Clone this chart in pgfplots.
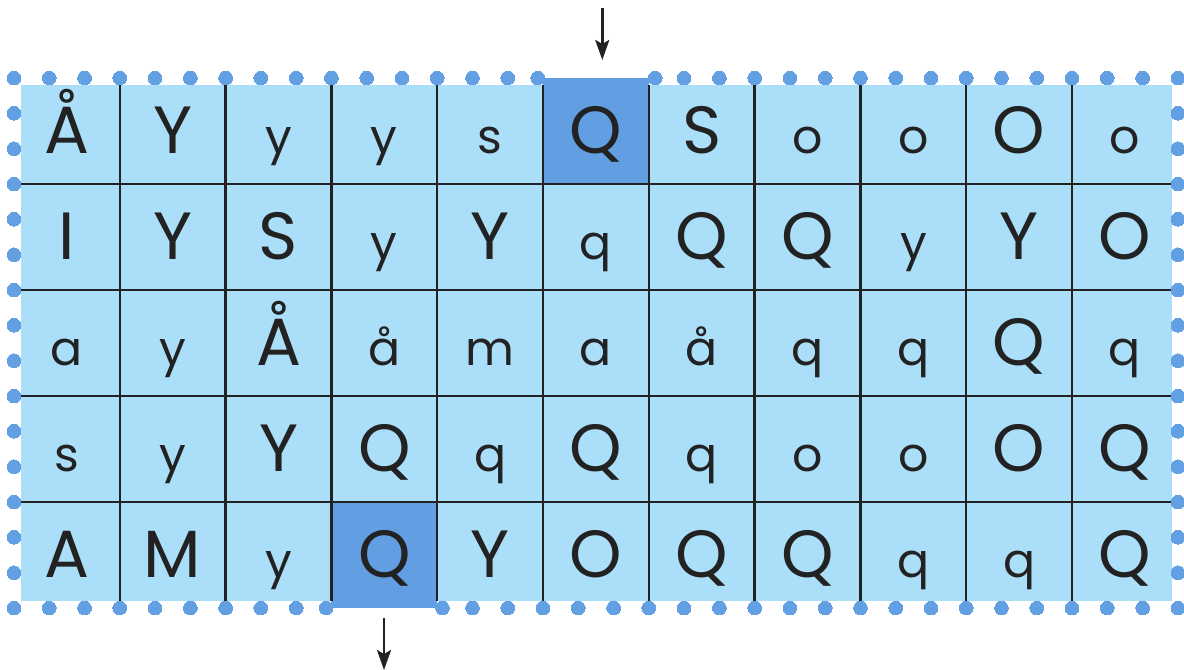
\documentclass[border=0pt]{standalone}
\usepackage{pgfplots}
\pgfplotsset{compat=1.18}
\usepackage{pgfplotstable}
\usepackage{fontspec}
\setmainfont{Poppins}
\usetikzlibrary{arrows.meta}
\definecolor{cellblue}{HTML}{ABDFF9}
\definecolor{hiblue}{HTML}{629FE2}
\definecolor{dotblue}{HTML}{629FE3}
\definecolor{gridc}{HTML}{222222}

\pgfplotstableread{
x y l
0.5 4.283 Å
1.5 4.283 Y
5.5 4.283 Q
6.5 4.283 S
9.5 4.283 O
0.5 3.283 I
1.5 3.283 Y
2.5 3.283 S
4.5 3.283 Y
6.5 3.283 Q
7.5 3.283 Q
9.5 3.283 Y
10.5 3.283 O
2.5 2.283 Å
9.5 2.283 Q
2.5 1.283 Y
3.5 1.283 Q
5.5 1.283 Q
9.5 1.283 O
10.5 1.283 Q
0.5 0.283 A
1.5 0.283 M
3.5 0.283 Q
4.5 0.283 Y
5.5 0.283 O
6.5 0.283 Q
7.5 0.283 Q
10.5 0.283 Q
}\capstab

\pgfplotstableread{
x y l
2.5 4.283 y
3.5 4.283 y
4.5 4.283 s
7.5 4.283 o
8.5 4.283 o
10.5 4.283 o
3.5 3.283 y
5.5 3.283 q
8.5 3.283 y
0.5 2.283 a
1.5 2.283 y
3.5 2.283 å
4.5 2.283 m
5.5 2.283 a
6.5 2.283 å
7.5 2.283 q
8.5 2.283 q
10.5 2.283 q
0.5 1.283 s
1.5 1.283 y
4.5 1.283 q
6.5 1.283 q
7.5 1.283 o
8.5 1.283 o
2.5 0.283 y
8.5 0.283 q
9.5 0.283 q
}\lowtab

\pgfplotstableread{
x y
0 5
0.333 5
0.667 5
1 5
1.333 5
1.667 5
2 5
2.333 5
2.667 5
3 5
3.333 5
3.667 5
4 5
4.333 5
4.667 5
4.95 5
6.06 5
6.333 5
6.667 5
7 5
7.333 5
7.667 5
8 5
8.333 5
8.667 5
9 5
9.333 5
9.667 5
10 5
10.333 5
10.667 5
11 5
0 0
0.333 0
0.667 0
1 0
1.333 0
1.667 0
2 0
2.333 0
2.667 0
2.95 0
4.05 0
4.333 0
4.667 0
5 0
5.333 0
5.667 0
6 0
6.333 0
6.667 0
7 0
7.333 0
7.667 0
8 0
8.333 0
8.667 0
9 0
9.333 0
9.667 0
10 0
10.333 0
10.667 0
11 0
0 0.333
0 0.667
0 1
0 1.333
0 1.667
0 2
0 2.333
0 2.667
0 3
0 3.333
0 3.667
0 4
0 4.333
0 4.667
11 0.333
11 0.667
11 1
11 1.333
11 1.667
11 2
11 2.333
11 2.667
11 3
11 3.333
11 3.667
11 4
11 4.333
11 4.667
}\dotstab

\begin{document}
\begin{tikzpicture}
\begin{axis}[
  hide axis, scale only axis,
  width=11.84cm, height=6.70cm,
  xmin=-0.1323, xmax=11.058, ymin=-0.585, ymax=5.736,
  clip=false,
]
% dotted border
\addplot[only marks, color=dotblue, mark=*, mark size=1.95pt, mark options={fill=dotblue, draw=dotblue, line width=0pt}] table[x=x,y=y] {\dotstab};
% background cells
\addplot[fill=cellblue, draw=none] coordinates {(0.066,0.066) (10.945,0.066) (10.945,4.934) (0.066,4.934)} --cycle;
% highlighted cells
\addplot[fill=hiblue, draw=none] coordinates {(5,4) (6,4) (6,5) (5,5)} --cycle;
\addplot[fill=hiblue, draw=none] coordinates {(3,0) (4,0) (4,1) (3,1)} --cycle;
% grid lines
\pgfplotsinvokeforeach{1,2,3,4,5,6,7,8,9,10}{
  \addplot[draw=gridc, line width=0.7pt] coordinates {(#1,0.066) (#1,4.934)};
}
\pgfplotsinvokeforeach{1,2,3,4}{
  \addplot[draw=gridc, line width=0.7pt] coordinates {(0.066,#1) (10.945,#1)};
}
% letters
\addplot[only marks, mark=none, point meta=explicit symbolic, nodes near coords,
  every node near coord/.append style={anchor=base, inner sep=0pt, text=gridc, font=\fontsize{19}{19}\selectfont}]
  table[x=x,y=y,meta=l] {\capstab};
\addplot[only marks, mark=none, point meta=explicit symbolic, nodes near coords,
  every node near coord/.append style={anchor=base, inner sep=0pt, text=gridc, font=\fontsize{13.5}{13.5}\selectfont}]
  table[x=x,y=y,meta=l] {\lowtab};
% arrows
\addplot[draw=gridc, line width=0.75pt, -{Stealth[length=2mm, width=1.4mm, inset=0.4mm]}] coordinates {(5.56,5.66) (5.56,5.17)};
\addplot[draw=gridc, line width=0.75pt, -{Stealth[length=2mm, width=1.4mm, inset=0.4mm]}] coordinates {(3.497,-0.094) (3.497,-0.585)};
\end{axis}
\pgfresetboundingbox
\path[use as bounding box] (current axis.south west) rectangle (current axis.north east);
\end{tikzpicture}
\end{document}
